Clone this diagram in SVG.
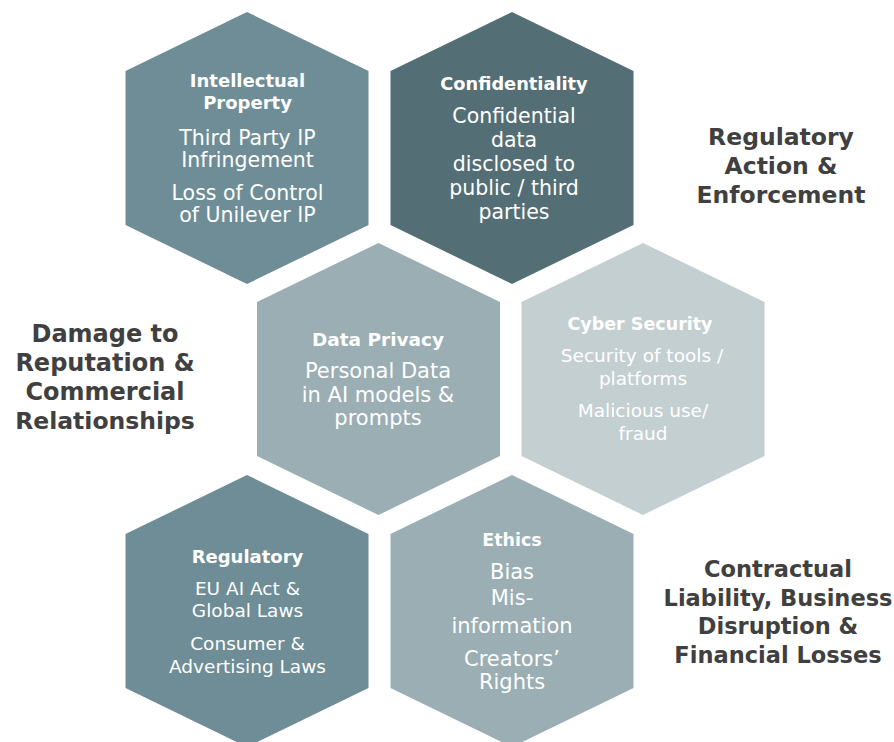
<svg xmlns="http://www.w3.org/2000/svg" width="894" height="742" viewBox="0 0 894 742">
<style>
text{font-family:"DejaVu Sans","Liberation Sans",sans-serif;text-anchor:middle}
.h{font-weight:bold;fill:#ffffff}
.b{fill:#ffffff}
.side{font-weight:bold;fill:#404040}
.c1{fill:#6E8D96}
.c2{fill:#546E75}
.c3{fill:#9AAEB4}
.c4{fill:#C4CFD2}
</style>
<defs>
<polygon id="hex" points="0,-136 121.5,-77 121.5,77 0,136 -121.5,77 -121.5,-77"/>
</defs>
<rect width="894" height="742" fill="#ffffff"/>
<g id="connectors"/>
<g id="n-ip">
<use href="#hex" class="c1" transform="translate(247,148)"/>
<text class="h" x="247.5" y="87" font-size="18">Intellectual</text>
<text class="h" x="247.5" y="109" font-size="18">Property</text>
<text class="b" x="247.5" y="145" font-size="20.5">Third Party IP</text>
<text class="b" x="247.5" y="167" font-size="20.5">Infringement</text>
<text class="b" x="247.5" y="200" font-size="20.5">Loss of Control</text>
<text class="b" x="247.5" y="222" font-size="20.5">of Unilever IP</text>
</g>
<g id="n-conf">
<use href="#hex" class="c2" transform="translate(512,148)"/>
<text class="h" x="514" y="90" font-size="17.8">Confidentiality</text>
<text class="b" x="514" y="123" font-size="20.5">Confidential</text>
<text class="b" x="514" y="147" font-size="20.5">data</text>
<text class="b" x="514" y="171" font-size="20.5">disclosed to</text>
<text class="b" x="514" y="195" font-size="20.5">public / third</text>
<text class="b" x="514" y="219" font-size="20.5">parties</text>
</g>
<g id="n-privacy">
<use href="#hex" class="c3" transform="translate(378.5,379)"/>
<text class="h" x="378" y="346" font-size="18.5">Data Privacy</text>
<text class="b" x="378" y="378" font-size="21">Personal Data</text>
<text class="b" x="378" y="402" font-size="21">in AI models &amp;</text>
<text class="b" x="378" y="425" font-size="21">prompts</text>
</g>
<g id="n-cyber">
<use href="#hex" class="c4" transform="translate(643,379)"/>
<text class="h" x="640" y="330" font-size="17.5">Cyber Security</text>
<text class="b" x="642" y="362" font-size="18.5">Security of tools /</text>
<text class="b" x="643" y="385" font-size="18.5">platforms</text>
<text class="b" x="643" y="417" font-size="18.5">Malicious use/</text>
<text class="b" x="643" y="440" font-size="18.5">fraud</text>
</g>
<g id="n-reg">
<use href="#hex" class="c1" transform="translate(247,611)"/>
<text class="h" x="247.5" y="563" font-size="18">Regulatory</text>
<text class="b" x="247.5" y="595" font-size="18.5">EU AI Act &amp;</text>
<text class="b" x="247.5" y="617" font-size="18.5">Global Laws</text>
<text class="b" x="247.5" y="650" font-size="18.5">Consumer &amp;</text>
<text class="b" x="247.5" y="673" font-size="18.5">Advertising Laws</text>
</g>
<g id="n-ethics">
<use href="#hex" class="c3" transform="translate(512,611)"/>
<text class="h" x="512" y="546" font-size="17.5">Ethics</text>
<text class="b" x="512" y="579" font-size="21">Bias</text>
<text class="b" x="512" y="605" font-size="21">Mis-</text>
<text class="b" x="512" y="633" font-size="21">information</text>
<text class="b" x="512" y="666" font-size="21">Creators’</text>
<text class="b" x="512" y="689" font-size="21">Rights</text>
</g>
<g id="l-reputation">
<text class="side" x="105" y="342" font-size="24">Damage to</text>
<text class="side" x="105" y="371" font-size="24">Reputation &amp;</text>
<text class="side" x="105" y="400" font-size="24">Commercial</text>
<text class="side" x="105" y="429" font-size="23.5">Relationships</text>
</g>
<g id="l-regulatory">
<text class="side" x="781" y="145" font-size="23.5">Regulatory</text>
<text class="side" x="781" y="174" font-size="23.5">Action &amp;</text>
<text class="side" x="781" y="203" font-size="23.5">Enforcement</text>
</g>
<g id="l-contractual">
<text class="side" x="778" y="577" font-size="22.5">Contractual</text>
<text class="side" x="778" y="605.5" font-size="22.5">Liability, Business</text>
<text class="side" x="778" y="634" font-size="22.5">Disruption &amp;</text>
<text class="side" x="778" y="662.5" font-size="22.5">Financial Losses</text>
</g>
</svg>
